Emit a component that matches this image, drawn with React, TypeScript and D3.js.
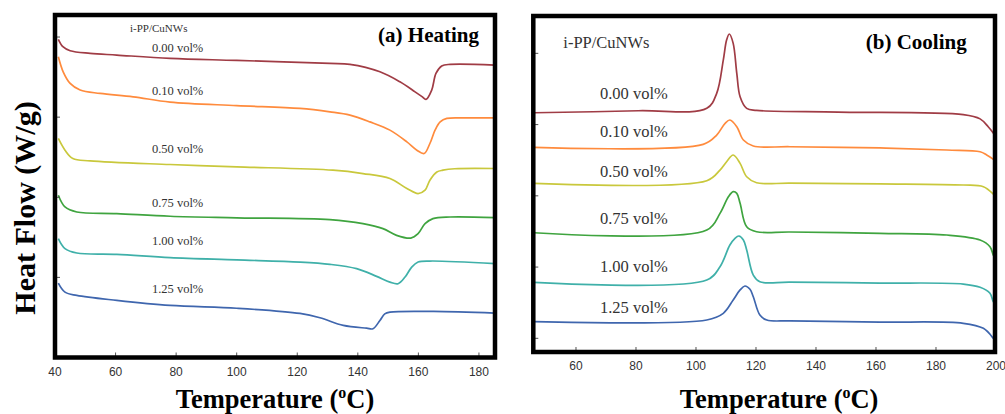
import React from 'react'
import * as d3 from 'd3'

// sample names + line colours (same order in both panels)
const seriesNames = ['0.00 vol%', '0.10 vol%', '0.50 vol%', '0.75 vol%', '1.00 vol%', '1.25 vol%']
const seriesColors = ['#a03c45', '#ff8b3d', '#c9c83c', '#3fa43f', '#3fb0a9', '#3f66ae']

// (a) heating scans: [temperature (°C), heat flow (a.u., curves offset)]
const heat000: [number, number][] = [
  [41.1, 3.971], [42.6, 3.879], [45.0, 3.829], [51.6, 3.796], [60.4, 3.775], [78, 3.734],
  [100, 3.708], [130.8, 3.671], [137.4, 3.659], [147.3, 3.566], [153.9, 3.441], [158.9, 3.316],
  [161.2, 3.256], [162.5, 3.221], [164.4, 3.338], [165.8, 3.546], [167.7, 3.638], [170.5, 3.659],
  [185.3, 3.65],
]
const heat010: [number, number][] = [
  [41.1, 3.754], [42.7, 3.566], [45.0, 3.421], [48.3, 3.338], [54.9, 3.296], [65.8, 3.254],
  [78, 3.188], [100, 3.144], [120.9, 3.109], [130.8, 3.066], [137.4, 3.025], [144.0, 2.941],
  [150.6, 2.838], [156.2, 2.691], [159.5, 2.588], [161.9, 2.546], [163.8, 2.671], [165.5, 2.838],
  [167.2, 2.941], [169.4, 2.984], [175, 2.991], [185.3, 2.991],
]
const heat050: [number, number][] = [
  [41.1, 2.734], [43.3, 2.588], [45.9, 2.484], [51.6, 2.454], [78, 2.409], [100, 2.38],
  [131.8, 2.338], [141.7, 2.296], [150.6, 2.234], [156.2, 2.109], [159.9, 2.046], [162.2, 2.088],
  [163.8, 2.213], [166.1, 2.316], [168.1, 2.338], [172, 2.356], [185.3, 2.359],
]
const heat075: [number, number][] = [
  [41.1, 2.025], [43.3, 1.879], [47.2, 1.816], [60.4, 1.796], [78, 1.763], [100, 1.744],
  [130.8, 1.721], [141.7, 1.671], [148.3, 1.609], [152.8, 1.525], [157.5, 1.491], [159.9, 1.546],
  [162.2, 1.671], [164.8, 1.734], [170.5, 1.754], [185.3, 1.746],
]
const heat100: [number, number][] = [
  [41.1, 1.484], [43.3, 1.359], [47.2, 1.304], [60.4, 1.288], [78, 1.246], [100, 1.218],
  [120.9, 1.191], [130.8, 1.163], [139.6, 1.109], [146.2, 1.013], [150.6, 0.941], [153.3, 0.921],
  [155.6, 1.004], [157.8, 1.129], [159.9, 1.191], [163.8, 1.204], [185.3, 1.171],
]
const heat125: [number, number][] = [
  [41.1, 0.929], [43.3, 0.816], [47.2, 0.775], [60.4, 0.713], [78, 0.65], [100, 0.615],
  [120.9, 0.55], [127.5, 0.496], [135.2, 0.4], [142.9, 0.366], [145, 0.359], [147.3, 0.4625],
  [148.9, 0.544], [150.6, 0.566], [165, 0.575], [185.3, 0.554],
]

// (b) cooling scans
const cool000: [number, number][] = [
  [46, 3.166], [80.8, 3.194], [103.6, 3.228], [106.9, 3.439], [109.1, 3.906], [110.2, 4.187],
  [111.1, 4.271], [112.4, 4.14], [113.6, 3.719], [114.7, 3.391], [116.9, 3.228], [120.2, 3.2],
  [147.4, 3.176], [189.1, 3.14], [194.7, 3.08], [197.4, 2.97], [199.1, 2.881], [199.7, 2.839],
]
const cool010: [number, number][] = [
  [46, 2.681], [102.4, 2.723], [106.9, 2.853], [109.7, 3.018], [111.3, 3.064], [113.6, 2.97],
  [115.8, 2.783], [119.1, 2.699], [131.3, 2.689], [161.3, 2.672], [183.6, 2.643], [194.7, 2.619],
  [196.9, 2.573], [199.1, 2.512], [199.7, 2.488],
]
const cool050: [number, number][] = [
  [46, 2.175], [103.6, 2.212], [108, 2.362], [110.2, 2.479], [112.4, 2.573], [114.7, 2.456],
  [116.9, 2.268], [120.2, 2.184], [131.3, 2.178], [161.3, 2.168], [189.1, 2.152], [195.8, 2.128],
  [199.1, 2.025], [199.7, 1.997],
]
const cool075: [number, number][] = [
  [46, 1.482], [103.6, 1.52], [108, 1.754], [110.8, 1.987], [112.4, 2.058], [113.6, 2.035],
  [114.7, 1.895], [116.9, 1.566], [120.2, 1.496], [131.3, 1.492], [161.3, 1.474], [183.6, 1.45],
  [194.7, 1.38], [198, 1.286], [199.1, 1.169], [199.7, 1.127],
]
const cool100: [number, number][] = [
  [46, 0.786], [103.6, 0.818], [108, 1.005], [111.3, 1.309], [113, 1.404], [114.3, 1.436],
  [115.8, 1.38], [116.9, 1.239], [119.1, 0.888], [121.3, 0.794], [131.3, 0.788], [161.3, 0.776],
  [189.1, 0.762], [194.7, 0.716], [198, 0.632], [199.1, 0.514], [199.7, 0.481],
]
const cool125: [number, number][] = [
  [46, 0.233], [103.6, 0.257], [109.1, 0.351], [112.4, 0.538], [114.7, 0.679], [116.3, 0.734],
  [118, 0.688], [119.1, 0.584], [121.3, 0.327], [123.6, 0.257], [131.3, 0.245], [161.3, 0.228],
  [189.1, 0.211], [195.8, 0.14], [199.1, 0], [199.7, -0.038],
]

const heatingCurves = [heat000, heat010, heat050, heat075, heat100, heat125]
const coolingCurves = [cool000, cool010, cool050, cool075, cool100, cool125]

const heatXTicks = [40, 60, 80, 100, 120, 140, 160, 180]
const coolXTicks = [60, 80, 100, 120, 140, 160, 180, 200]
const heatYTicks = [1, 2, 3, 4]
const coolYTicks = [0, 1, 2, 3, 4]

// where the sample labels sit (temperature, heat flow)
const heatLabelT = 72
const heatLabelY = [3.816, 3.271, 2.554, 1.879, 1.409, 0.804]
const coolLabelT = 68
const coolLabelY = [3.359, 2.829, 2.268, 1.604, 0.935, 0.351]

const serif = '"Liberation Serif", "Times New Roman", serif'
const sans = '"Liberation Sans", Arial, sans-serif'

function Panel({ box, xDomain, yDomain, curves, xTicks, yTicks, labelT, labelY, labelSize, tickY, title, sample }) {
  const [left, top, right, bottom] = box
  const x = d3.scaleLinear().domain(xDomain).range([left, right])
  const y = d3.scaleLinear().domain(yDomain).range([bottom, top])
  const line = d3
    .line<[number, number]>()
    .x((d) => x(d[0]))
    .y((d) => y(d[1]))
    .curve(d3.curveCatmullRom.alpha(0.5))

  return (
    <g>
      {curves.map((c, i) => (
        <path key={i} d={line(c) || ''} fill="none" stroke={seriesColors[i]} strokeWidth={1.7} />
      ))}
      {xTicks.map((t) => (
        <g key={t}>
          <line x1={x(t)} x2={x(t)} y1={bottom} y2={bottom - 5} stroke="#555" strokeWidth={1} />
          <text x={x(t)} y={tickY} textAnchor="middle" fontFamily={sans} fontSize={12} fill="#333">
            {t}
          </text>
        </g>
      ))}
      {yTicks.map((t) => (
        <line key={t} x1={left} x2={left + 5} y1={y(t)} y2={y(t)} stroke="#555" strokeWidth={1} />
      ))}
      <rect x={left} y={top} width={right - left} height={bottom - top} fill="none" stroke="#000" strokeWidth={4.5} />
      {seriesNames.map((s, i) => (
        <text key={s} x={x(labelT)} y={y(labelY[i])} fontFamily={serif} fontSize={labelSize} fill="#333">
          {s}
        </text>
      ))}
      <text x={sample.x} y={sample.y} fontFamily={serif} fontSize={sample.size} fill="#333">
        i-PP/CuNWs
      </text>
      <text x={title.x} y={title.y} textAnchor="end" fontFamily={serif} fontWeight="bold" fontSize={21} fill="#000">
        {title.text}
      </text>
      <text x={(left + right) / 2 + title.dx} y={408} textAnchor="middle" fontFamily={serif} fontWeight="bold" fontSize={26.5} fill="#000">
        Temperature (<tspan dy={-10} fontSize={16}>o</tspan>
        <tspan dy={10}>C)</tspan>
      </text>
    </g>
  )
}

export default function App() {
  return (
    <svg width={1005} height={414} style={{ position: 'absolute', left: 0, top: 0, background: '#fff' }}>
      <rect width={1005} height={414} fill="#fff" />
      <text
        transform="translate(35,208) rotate(-90)"
        textAnchor="middle"
        fontFamily={serif}
        fontWeight="bold"
        fontSize={30}
        fill="#000"
      >
        Heat Flow (W/g)
      </text>
      <Panel
        box={[55, 15, 495, 357.5]}
        xDomain={[40, 185.3]}
        yDomain={[0, 4.275]}
        curves={heatingCurves}
        xTicks={heatXTicks}
        yTicks={heatYTicks}
        labelT={heatLabelT}
        labelY={heatLabelY}
        labelSize={12.5}
        tickY={376}
        title={{ text: '(a) Heating', x: 479, y: 41.7, dx: 0 }}
        sample={{ x: 130, y: 31.7, size: 11 }}
      />
      <Panel
        box={[533.3, 16, 995, 352]}
        xDomain={[45.77, 199.67]}
        yDomain={[-0.192, 4.524]}
        curves={coolingCurves}
        xTicks={coolXTicks}
        yTicks={coolYTicks}
        labelT={coolLabelT}
        labelY={coolLabelY}
        labelSize={16.5}
        tickY={370}
        title={{ text: '(b) Cooling', x: 966.7, y: 49, dx: 15 }}
        sample={{ x: 563.3, y: 48.3, size: 16.5 }}
      />
    </svg>
  )
}
